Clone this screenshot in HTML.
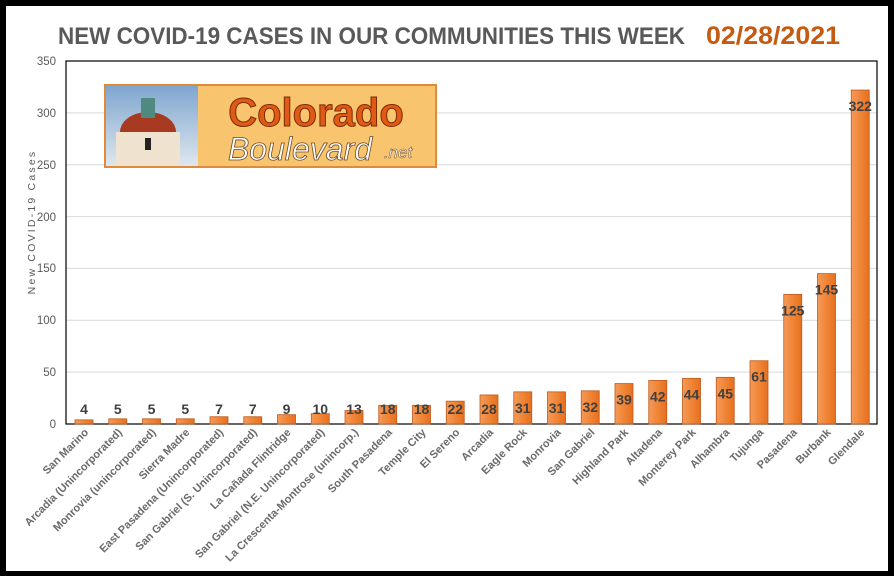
<!DOCTYPE html>
<html><head><meta charset="utf-8"><style>
body{margin:0;background:#fff}
svg{display:block}
text{font-family:"Liberation Sans",sans-serif}
</style></head><body>
<svg width="894" height="576" viewBox="0 0 894 576" xmlns="http://www.w3.org/2000/svg">
<defs>
<linearGradient id="bg" x1="0" x2="1" y1="0" y2="0">
<stop offset="0" stop-color="#f49a5a"/><stop offset="0.5" stop-color="#f08536"/><stop offset="1" stop-color="#e5701f"/>
</linearGradient>
<linearGradient id="sky" x1="0" x2="0" y1="0" y2="1">
<stop offset="0" stop-color="#7fa6cf"/><stop offset="1" stop-color="#dfe7ee"/>
</linearGradient>
</defs>
<rect width="894" height="576" fill="#000"/>
<rect x="6" y="6" width="882" height="565" fill="#fff"/>
<text x="58" y="44" textLength="627" lengthAdjust="spacingAndGlyphs" font-size="24" font-weight="bold" fill="#595959">NEW COVID-19 CASES IN OUR COMMUNITIES THIS WEEK</text>
<text x="706" y="44" textLength="134" lengthAdjust="spacingAndGlyphs" font-size="25" font-weight="bold" fill="#c55a11">02/28/2021</text>
<g stroke="#d9d9d9" stroke-width="1">
<line x1="66" x2="877" y1="372.1" y2="372.1"/><line x1="66" x2="877" y1="320.3" y2="320.3"/>
<line x1="66" x2="877" y1="268.4" y2="268.4"/><line x1="66" x2="877" y1="216.6" y2="216.6"/>
<line x1="66" x2="877" y1="164.7" y2="164.7"/><line x1="66" x2="877" y1="112.9" y2="112.9"/>
</g>
<rect x="66" y="61" width="811" height="363" fill="none" stroke="#000" stroke-width="1.2"/>
<g font-size="11.5" fill="#595959" text-anchor="end">
<text x="56" y="428">0</text><text x="56" y="376">50</text><text x="56" y="324">100</text>
<text x="56" y="272">150</text><text x="56" y="221">200</text><text x="56" y="169">250</text>
<text x="56" y="117">300</text><text x="56" y="65">350</text>
</g>
<text transform="translate(35,222) rotate(-90)" text-anchor="middle" font-size="10.5" fill="#595959" letter-spacing="2.2">New COVID-19 Cases</text>
<!-- logo -->
<rect x="104" y="84" width="333" height="84" fill="#e08a3c"/>
<rect x="106" y="86" width="92" height="80" fill="url(#sky)"/>
<rect x="198" y="86" width="237" height="80" fill="#f8c56e"/>
<ellipse cx="148" cy="132" rx="28" ry="20" fill="#a83a22"/>
<rect x="116" y="132" width="64" height="34" fill="#efe3cf"/>
<rect x="141" y="98" width="14" height="20" fill="#4f8a7f"/>
<rect x="145" y="138" width="6" height="12" fill="#222"/>
<text x="316" y="126" text-anchor="middle" font-size="40" font-weight="bold" fill="#e05a14" stroke="#7a2b08" stroke-width="1">Colorado</text>
<text x="300" y="160" text-anchor="middle" font-size="32" font-style="italic" font-family="Liberation Serif,serif" fill="#fff" stroke="#6b4a2a" stroke-width="0.8">Boulevard</text>
<text x="398" y="158" text-anchor="middle" font-size="17" font-style="italic" font-family="Liberation Serif,serif" fill="#fff" stroke="#6b4a2a" stroke-width="0.5">.net</text>
<g id="bars"></g>
</svg>
<script>
var d=[["San Marino",4],["Arcadia (Unincorporated)",5],["Monrovia (unincorporated)",5],["Sierra Madre",5],["East Pasadena (Unincorporated)",7],["San Gabriel (S. Unincorporated)",7],["La Cañada Flintridge",9],["San Gabriel (N.E. Unincorporated)",10],["La Crescenta-Montrose (unincorp.)",13],["South Pasadena",18],["Temple City",18],["El Sereno",22],["Arcadia",28],["Eagle Rock",31],["Monrovia",31],["San Gabriel",32],["Highland Park",39],["Altadena",42],["Monterey Park",44],["Alhambra",45],["Tujunga",61],["Pasadena",125],["Burbank",145],["Glendale",322]];
var g=document.getElementById('bars'),s='';
d.forEach(function(e,i){var cx=84+i*33.75,h=e[1]*363/350,top=424-h;
s+='<rect x="'+(cx-9)+'" y="'+top+'" width="18" height="'+h+'" fill="url(#bg)" stroke="#c0581a" stroke-width="0.8"/>';
var ly=Math.min(top+16,409)+5;
s+='<text x="'+cx+'" y="'+ly+'" text-anchor="middle" font-size="14" font-weight="bold" fill="#404040">'+e[1]+'</text>';
s+='<text transform="translate('+(cx+5)+',433) rotate(-45)" text-anchor="end" font-size="11" font-weight="bold" fill="#6a6a6a">'+e[0]+'</text>';});
g.innerHTML=s;
</script>
</body></html>
